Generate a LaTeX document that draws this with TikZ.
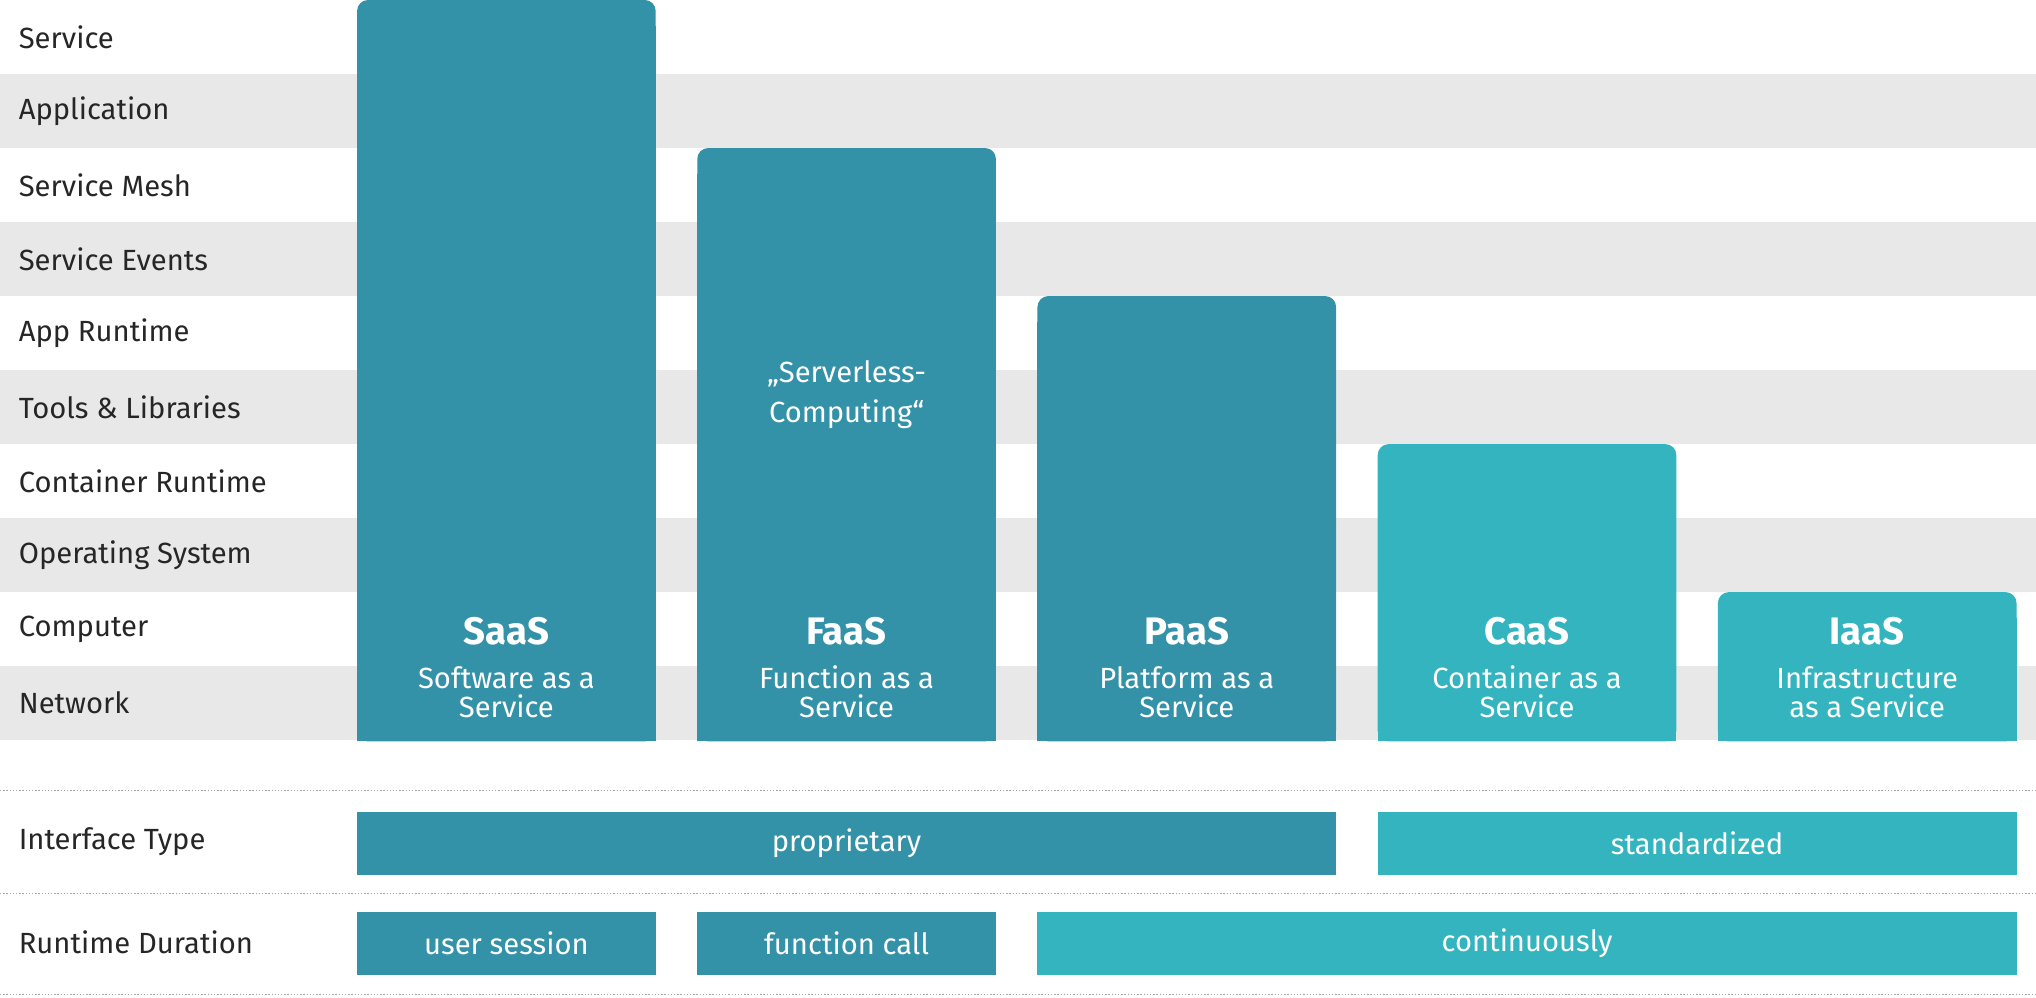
\documentclass[tikz,border=0pt]{standalone}
\usepackage{fontspec}
\setmainfont{Fira Sans}
\begin{document}
\begin{tikzpicture}[x=0.05cm,y=-0.05cm,
  dark/.style={fill={rgb,255:red,51;green,145;blue,168}},
  light/.style={fill={rgb,255:red,51;green,180;blue,191}},
  lab/.style={anchor=west,font=\fontsize{32}{38}\selectfont\color{black!85}},
  wlab/.style={text=white,font=\fontsize{32}{32}\selectfont,align=center},
  ttl/.style={text=white,font=\fontsize{42}{42}\selectfont\bfseries},
  dots/.style={draw=black!35,line width=1.5pt,dotted}]
\useasboundingbox (0,0) rectangle (1568,768);
\foreach \y in {57,171,285,399,513}
  \fill[black!9] (0,\y) rectangle (1568,\y+57);
\foreach \t [count=\i] in {Service,Application,Service Mesh,Service Events,App Runtime,Tools \& Libraries,Container Runtime,Operating System,Computer,Network}
  \node[lab] (l\i) at (12,{28.5+57*(\i-1)}) {\t};
% columns
\foreach \x/\top/\st in {275/0/dark,537/114/dark,799/228/dark,1061/342/light,1323/456/light}{
  \fill[\st,rounded corners=12] (\x,571) -- (\x,\top) -- (\x+230,\top) -- (\x+230,571) -- cycle;
  \fill[\st] (\x,\top+20) rectangle (\x+230,571);}
\node[ttl] (t1) at (390,486) {SaaS};
\node[ttl] (t2) at (652,486) {FaaS};
\node[ttl] (t3) at (914,486) {PaaS};
\node[ttl] (t4) at (1176,486) {CaaS};
\node[ttl] (t5) at (1438,486) {IaaS};
\node[wlab] (s1) at (390,533) {Software as a\\Service};
\node[wlab] (s2) at (652,533) {Function as a\\Service};
\node[wlab] (s3) at (914,533) {Platform as a\\Service};
\node[wlab] (s4) at (1176,533) {Container as a\\Service};
\node[wlab] (s5) at (1438,533) {Infrastructure\\as a Service};
\node[wlab,font=\fontsize{32}{44}\selectfont] (sl) at (652,304) {„Serverless-\\Computing“};
% dotted lines
\foreach \y in {609,688,766} \draw[dots] (0,\y) -- (1568,\y);
\node[lab] (it) at (12,648) {Interface Type};
\node[lab] (rd) at (12,726) {Runtime Duration};
\fill[dark] (275,625) rectangle (1029,674);
\fill[light] (1061,625) rectangle (1553,674);
\node[wlab] (p) at (652,649.5) {proprietary};
\node[wlab] (st) at (1307,649.5) {standardized};
\fill[dark] (275,702) rectangle (505,751);
\fill[dark] (537,702) rectangle (767,751);
\fill[light] (799,702) rectangle (1553,751);
\node[wlab] (us) at (390,726.5) {user session};
\node[wlab] (fc) at (652,726.5) {function call};
\node[wlab] (co) at (1176,726.5) {continuously};
\end{tikzpicture}
\end{document}
